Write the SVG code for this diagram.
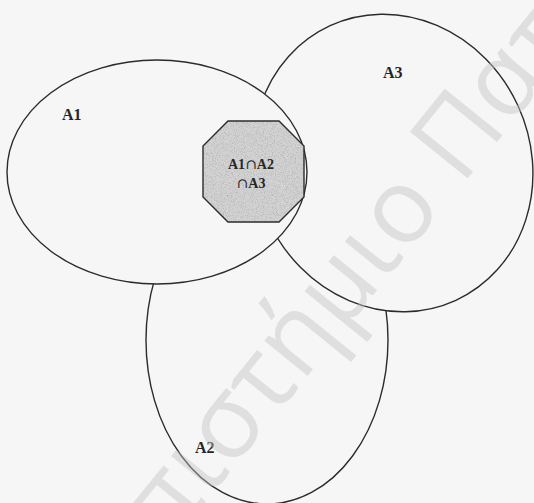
<svg xmlns="http://www.w3.org/2000/svg" width="534" height="503" viewBox="0 0 534 503">
  <style>
    .set { fill: #f6f6f6; stroke: #2b2b2b; stroke-width: 1.4; }
    .lbl { font-family: "Liberation Serif", "DejaVu Serif", serif; font-weight: bold; fill: #262626; }
    .cap { font-family: "DejaVu Serif", "Liberation Serif", serif; font-weight: normal; }
    .wm { font-family: "Open Sans", "Noto Sans", sans-serif; fill: #c4c4c4; fill-opacity: 0.45; }
  </style>
  <defs>
    <filter id="grain" x="0" y="0" width="100%" height="100%">
      <feTurbulence type="fractalNoise" baseFrequency="1.1" numOctaves="2" seed="4" result="n"/>
      <feColorMatrix in="n" type="matrix" values="0 0 0 0 0  0 0 0 0 0  0 0 0 0 0  0 0 0 -2.4 1.35" result="dots"/>
      <feComposite in="dots" in2="SourceGraphic" operator="in"/>
    </filter>
  </defs>
  <rect x="0" y="0" width="534" height="503" fill="#f6f6f6"/>
  <g id="A2">
    <ellipse class="set" cx="267" cy="340" rx="121" ry="164"/>
    <text class="lbl" x="195" y="453" font-size="16">A2</text>
  </g>
  <g id="A3">
    <ellipse class="set" cx="393" cy="163" rx="137.5" ry="151" transform="rotate(-24.6 393 163)"/>
    <text class="lbl" x="383" y="78" font-size="16">A3</text>
  </g>
  <g id="A1">
    <ellipse class="set" cx="157" cy="172" rx="150" ry="112"/>
    <text class="lbl" x="62" y="120" font-size="16">A1</text>
  </g>
  <g id="A1A2A3">
    <polygon points="228,121 279,121 304,146 304,197 279,222 228,222 203,197 203,146" fill="#d3d3d3"/>
    <polygon points="228,121 279,121 304,146 304,197 279,222 228,222 203,197 203,146" fill="#000" opacity="0.14" filter="url(#grain)"/>
    <polygon points="228,121 279,121 304,146 304,197 279,222 228,222 203,197 203,146" fill="none" stroke="#2b2b2b" stroke-width="1.4"/>
    <text class="lbl" x="251" y="169" font-size="14" text-anchor="middle">A1<tspan class="cap">∩</tspan>A2</text>
    <text class="lbl" x="251" y="188" font-size="14" text-anchor="middle"><tspan class="cap">∩</tspan>A3</text>
  </g>
  <g id="connectors"></g>
  <text class="wm" x="12" y="741" font-size="104" transform="rotate(-51 12 741)">Πανεπιστήμιο Πατρών</text>
</svg>
